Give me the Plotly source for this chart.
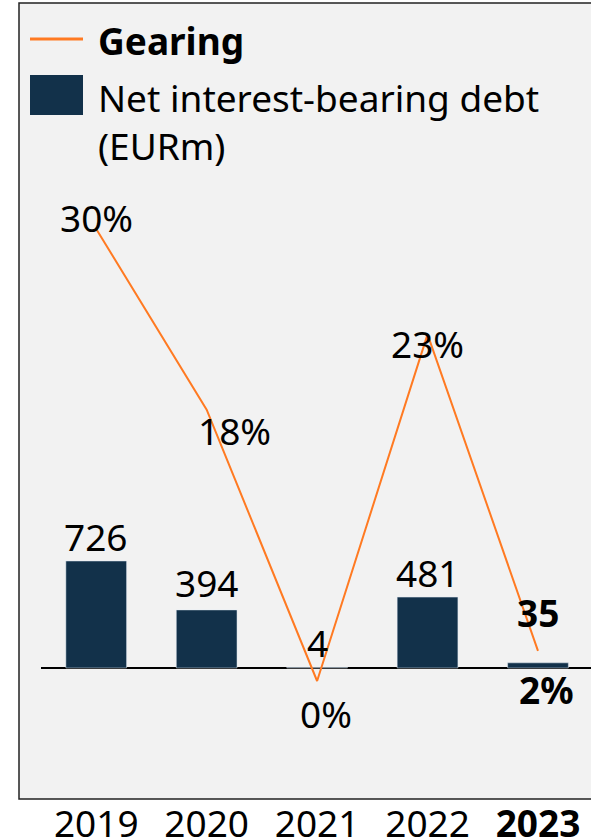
import plotly.graph_objects as go

years = ["2019", "2020", "2021", "2022", "2023"]
year_labels = ["2019", "2020", "2021", "2022", "<b>2023</b>"]
net_debt = [726, 394, 4, 481, 35]
net_debt_labels = ["726", "394", "4", "481", "<b>35</b>"]
gearing = [30, 18, 0, 23, 2]
gearing_labels = ["30%", "18%", "0%", "23%", "<b>2%</b>"]

# style / layout constants (pixels)
W, H = 591, 840
L, B = 41, 41          # plot area left / bottom margin
PW = W - L
PH = H - B
FONT = "Noto Sans"
FS = 37
ORANGE = "#FF7A22"
NAVY = "#12314A"
BG = "#F2F2F2"

bar_label_shift = [24, 27, 25, 25, 50]
line_label_shift = [(0, 11), (28, -21), (9, -32), (0, -9), (9, -39)]

x = list(range(len(years)))

fig = go.Figure()
fig.add_trace(go.Bar(x=x, y=net_debt, marker_color=NAVY, width=0.55,
                     name="Net interest-bearing debt (EURm)", showlegend=False,
                     yaxis="y"))
fig.add_trace(go.Scatter(x=x, y=gearing, mode="lines", line=dict(color=ORANGE, width=2),
                         name="Gearing", showlegend=False, yaxis="y2"))

ann = []
for i in x:
    ann.append(dict(x=i, y=net_debt[i], xref="x", yref="y", text=net_debt_labels[i],
                    showarrow=False, yanchor="middle", xanchor="center",
                    yshift=bar_label_shift[i], font=dict(size=FS, color="black", family=FONT)))
    dx, dy = line_label_shift[i]
    ann.append(dict(x=i, y=gearing[i], xref="x", yref="y2", text=gearing_labels[i],
                    showarrow=False, yanchor="middle", xanchor="center",
                    xshift=dx, yshift=dy, font=dict(size=FS, color="black", family=FONT)))

def px(p):
    return (p - L) / PW

def py(p):
    return (PH - p) / PH

# manual legend
ann.append(dict(x=px(96), y=py(41), xref="paper", yref="paper", text="<b>Gearing</b>",
                showarrow=False, xanchor="left", yanchor="middle",
                font=dict(size=FS, color="black", family=FONT)))
ann.append(dict(x=px(96), y=py(70), xref="paper", yref="paper",
                text="Net interest-bearing debt<br>(EURm)", align="left",
                showarrow=False, xanchor="left", yanchor="top",
                font=dict(size=FS, color="black", family=FONT)))

shapes = [
    dict(type="rect", xref="paper", yref="paper", x0=px(19), x1=px(600), y0=0, y1=py(3),
         fillcolor=BG, line=dict(color="#222222", width=1.5), layer="below"),
    dict(type="line", xref="paper", yref="paper", x0=px(30), x1=px(83), y0=py(39), y1=py(39),
         line=dict(color=ORANGE, width=3)),
    dict(type="rect", xref="paper", yref="paper", x0=px(30), x1=px(83), y0=py(115), y1=py(75),
         fillcolor=NAVY, line=dict(width=0)),
]

# axis scales: bars zero at y=668, 0.1474 px per unit; gearing zero at 681, 15.07 px per %
y1_top = 668 / 0.1474
y1_bot = -(PH - 668) / 0.1474
y2_top = 681 / 15.07
y2_bot = -(PH - 681) / 15.07

fig.update_layout(
    width=W, height=H,
    margin=dict(l=L, r=0, t=0, b=B, autoexpand=False),
    paper_bgcolor="white", plot_bgcolor="rgba(0,0,0,0)",
    font=dict(family=FONT, size=FS, color="black"),
    xaxis=dict(range=[-0.5, 4.48], tickvals=x, ticktext=year_labels, showgrid=False,
               zeroline=False, showline=False, ticks="", tickfont=dict(size=FS),
               automargin=False),
    yaxis=dict(range=[y1_bot, y1_top], showgrid=False, showticklabels=False,
               zeroline=True, zerolinecolor="black", zerolinewidth=2, showline=False,
               automargin=False),
    yaxis2=dict(range=[y2_bot, y2_top], overlaying="y", side="right", visible=False),
    annotations=ann, shapes=shapes, showlegend=False, bargap=0.45,
)

fig.write_html("out.html", config={"displayModeBar": False},
               post_script="document.body.style.margin='0px';document.body.style.overflow='hidden';")
